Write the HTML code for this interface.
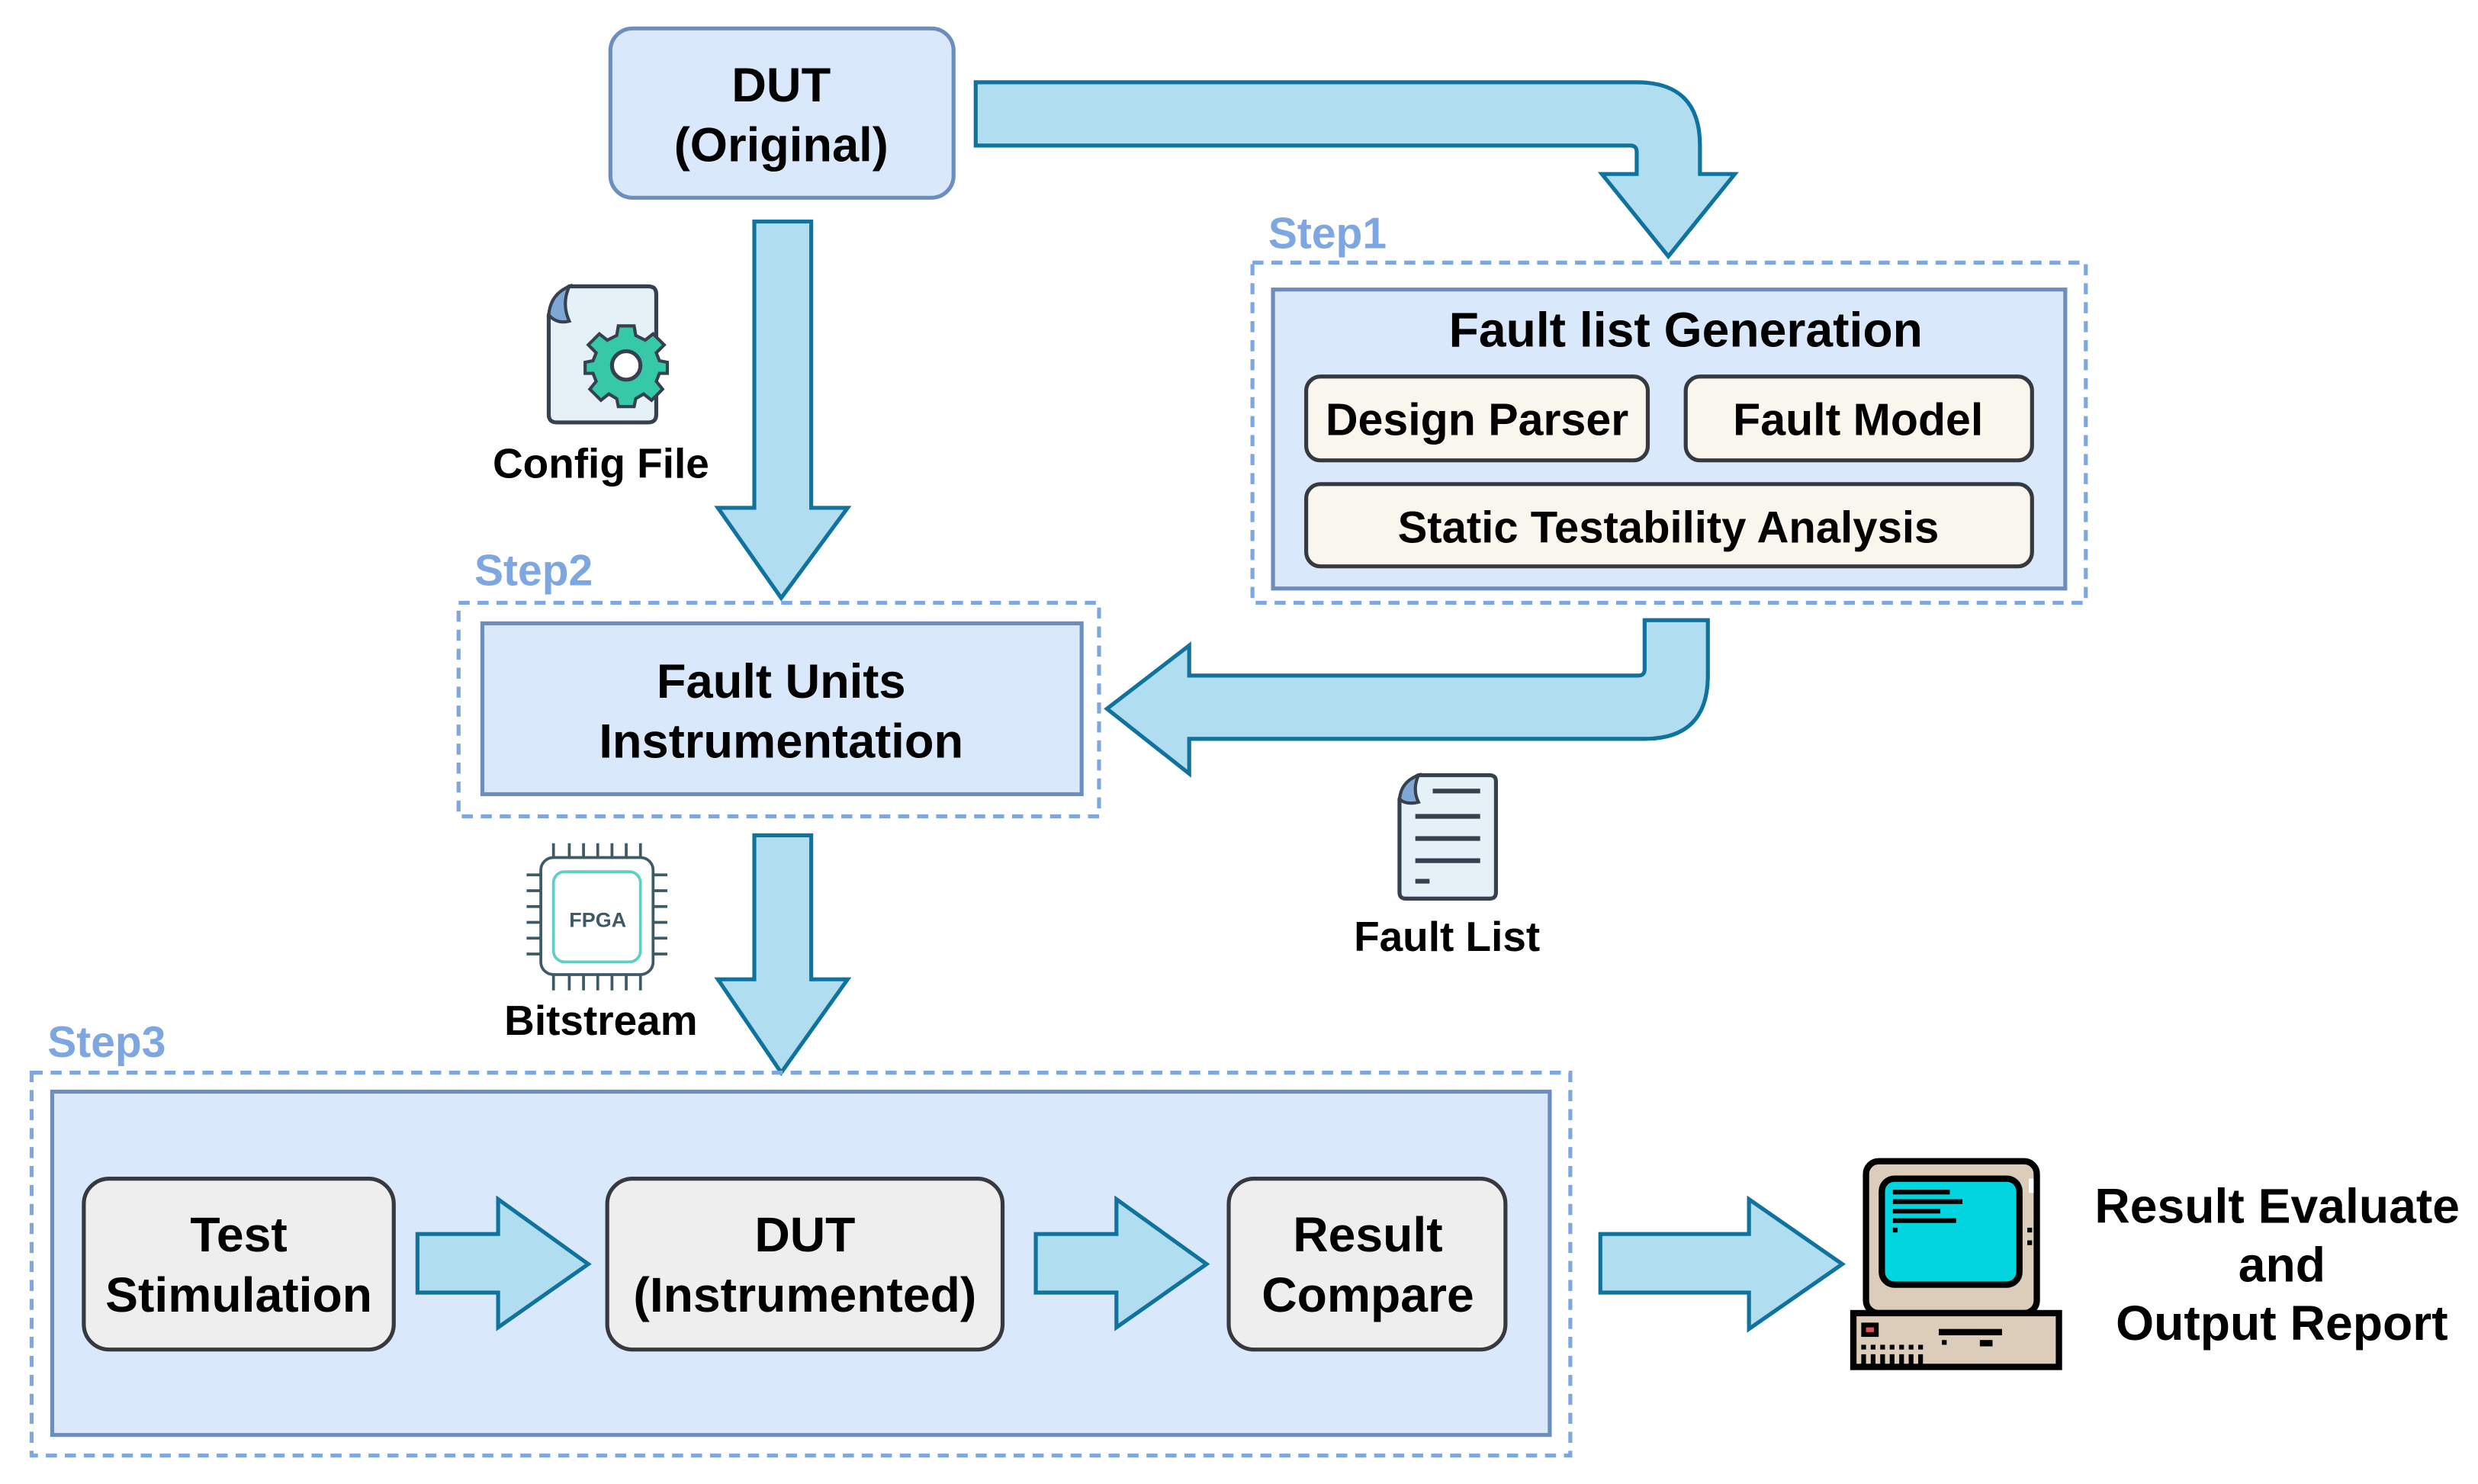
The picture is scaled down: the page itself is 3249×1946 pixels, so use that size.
<!DOCTYPE html>
<html><head><meta charset="utf-8"><style>
html,body{margin:0;padding:0;background:#fff;}
svg{display:block;}
text{font-family:"Liberation Sans",Arial,sans-serif;font-weight:bold;}
</style></head><body>
<svg width="3249" height="1946" viewBox="0 0 1567 938" preserveAspectRatio="none" xmlns="http://www.w3.org/2000/svg">
<rect width="1567" height="938" fill="#fff"/>
<!-- DUT original -->
<rect x="386" y="18" width="217" height="107" rx="14" fill="#dae8fc" stroke="#6c8ebf" stroke-width="2.5"/>
<text x="494" y="64" font-size="30.5" text-anchor="middle">DUT</text>
<text x="494" y="102" font-size="30.5" text-anchor="middle">(Original)</text>

<!-- top arrow -->
<path d="M617,52 L1035,52 Q1075,52 1075,92 L1075,110 L1097,110 L1055,162 L1013,110 L1035,110 L1035,96 Q1035,92 1031,92 L617,92 Z" fill="#b1ddf0" stroke="#10739e" stroke-width="2.5"/>

<!-- Step1 -->
<text x="802" y="157" font-size="27.5" fill="#7ea6e0">Step1</text>
<rect x="792" y="166" width="527" height="215" fill="none" stroke="#7ea6e0" stroke-width="2.5" stroke-dasharray="7,5"/>
<rect x="805" y="183" width="501" height="189" fill="#dae8fc" stroke="#6c8ebf" stroke-width="2.5"/>
<text x="1066" y="219" font-size="31" text-anchor="middle">Fault list Generation</text>
<rect x="826" y="238" width="216" height="53" rx="9" fill="#f9f7ed" stroke="#36393d" stroke-width="2.5"/>
<text x="934" y="275" font-size="28.5" text-anchor="middle">Design Parser</text>
<rect x="1066" y="238" width="219" height="53" rx="9" fill="#f9f7ed" stroke="#36393d" stroke-width="2.5"/>
<text x="1175" y="275" font-size="28.5" text-anchor="middle">Fault Model</text>
<rect x="826" y="306" width="459" height="52" rx="9" fill="#f9f7ed" stroke="#36393d" stroke-width="2.5"/>
<text x="1055" y="343" font-size="28" text-anchor="middle">Static Testability Analysis</text>

<!-- down arrow 1 -->
<path d="M477,140 L513,140 L513,321 L536,321 L494,378 L454,321 L477,321 Z" fill="#b1ddf0" stroke="#10739e" stroke-width="2.5"/>

<!-- config file icon -->
<path d="M360,181 L410,181 Q415,181 415,186 L415,262 Q415,267 410,267 L352,267 Q347,267 347,262 L347,199 Q352,186 360,181 Z" fill="#e6f0f7" stroke="#36404f" stroke-width="2.5"/>
<path d="M347,199 Q348,186 360,181 Q355,192 360,203 Q352,205 347,199 Z" fill="#7fa7d5" stroke="#36404f" stroke-width="2"/>
<g transform="translate(396,231)">
<g fill="#35c9a7" stroke="#36404f" stroke-width="2">
<path d="M-5,-25 L5,-25 L6,-19 L12,-16 L17,-20 L24,-13 L19,-8 L21,-3 L26,-2 L26,5 L21,5 L19,10 L23,15 L16,22 L11,18 L6,21 L5,26 L-5,26 L-6,21 L-11,18 L-16,22 L-23,15 L-19,10 L-21,5 L-26,5 L-26,-2 L-21,-3 L-19,-8 L-24,-13 L-17,-20 L-12,-16 L-6,-19 Z"/>
</g>
<circle r="9" fill="#fff" stroke="#36404f" stroke-width="2.5"/>
</g>
<text x="380" y="302" font-size="26.5" text-anchor="middle">Config File</text>

<!-- Step2 -->
<text x="300" y="370" font-size="27.5" fill="#7ea6e0">Step2</text>
<rect x="290" y="381" width="405" height="135" fill="none" stroke="#7ea6e0" stroke-width="2.5" stroke-dasharray="7,5"/>
<rect x="305" y="394" width="379" height="108" fill="#dae8fc" stroke="#6c8ebf" stroke-width="2.5"/>
<text x="494" y="441" font-size="30.5" text-anchor="middle">Fault Units</text>
<text x="494" y="479" font-size="30.5" text-anchor="middle">Instrumentation</text>

<!-- left arrow -->
<path d="M1040,392 L1080,392 L1080,427 Q1080,467 1040,467 L752,467 L752,489 L700,448 L752,408 L752,427 L1036,427 Q1040,427 1040,423 Z" fill="#b1ddf0" stroke="#10739e" stroke-width="2.5"/>

<!-- fault list icon -->
<path d="M897,490 L942,490 Q946,490 946,494 L946,564 Q946,568 942,568 L889,568 Q885,568 885,564 L885,505 Q889,494 897,490 Z" fill="#e6f0f7" stroke="#36404f" stroke-width="2.5"/>
<path d="M885,505 Q886,494 897,490 Q893,499 897,507 Q889,509 885,505 Z" fill="#7fa7d5" stroke="#36404f" stroke-width="2"/>
<g stroke="#36404f" stroke-width="3">
<line x1="895" y1="516" x2="936" y2="516"/>
<line x1="895" y1="530" x2="936" y2="530"/>
<line x1="895" y1="544" x2="936" y2="544"/>
<line x1="895" y1="557" x2="904" y2="557"/>
<line x1="906" y1="500" x2="936" y2="500"/>
</g>
<text x="915" y="601" font-size="26.5" text-anchor="middle">Fault List</text>

<!-- down arrow 2 -->
<path d="M477,528 L513,528 L513,619 L536,619 L494,678 L454,619 L477,619 Z" fill="#b1ddf0" stroke="#10739e" stroke-width="2.5"/>

<!-- FPGA chip -->
<g stroke="#3e5a66" stroke-width="1.8">
<line x1="350" y1="533" x2="350" y2="542"/><line x1="360" y1="533" x2="360" y2="542"/><line x1="369" y1="533" x2="369" y2="542"/><line x1="378" y1="533" x2="378" y2="542"/><line x1="387" y1="533" x2="387" y2="542"/><line x1="396" y1="533" x2="396" y2="542"/><line x1="405" y1="533" x2="405" y2="542"/>
<line x1="350" y1="616" x2="350" y2="626"/><line x1="360" y1="616" x2="360" y2="626"/><line x1="369" y1="616" x2="369" y2="626"/><line x1="378" y1="616" x2="378" y2="626"/><line x1="387" y1="616" x2="387" y2="626"/><line x1="396" y1="616" x2="396" y2="626"/><line x1="405" y1="616" x2="405" y2="626"/>
<line x1="333" y1="553" x2="342" y2="553"/><line x1="333" y1="563" x2="342" y2="563"/><line x1="333" y1="573" x2="342" y2="573"/><line x1="333" y1="583" x2="342" y2="583"/><line x1="333" y1="593" x2="342" y2="593"/><line x1="333" y1="603" x2="342" y2="603"/>
<line x1="413" y1="553" x2="422" y2="553"/><line x1="413" y1="563" x2="422" y2="563"/><line x1="413" y1="573" x2="422" y2="573"/><line x1="413" y1="583" x2="422" y2="583"/><line x1="413" y1="593" x2="422" y2="593"/><line x1="413" y1="603" x2="422" y2="603"/>
</g>
<rect x="342" y="542" width="71" height="74" rx="8" fill="#fff" stroke="#3e5a66" stroke-width="1.8"/>
<rect x="350" y="551" width="55" height="57" rx="7" fill="#fff" stroke="#5fcfc6" stroke-width="1.8"/>
<text x="378" y="586" font-size="13" fill="#3e5a66" text-anchor="middle">FPGA</text>
<text x="380" y="654" font-size="26.5" text-anchor="middle">Bitstream</text>

<!-- Step3 -->
<text x="30" y="668" font-size="27.5" fill="#7ea6e0">Step3</text>
<rect x="20" y="678" width="973" height="242" fill="none" stroke="#7ea6e0" stroke-width="2.5" stroke-dasharray="7,5"/>
<rect x="33" y="690" width="947" height="217" fill="#dae8fc" stroke="#6c8ebf" stroke-width="2.5"/>

<rect x="53" y="745" width="196" height="108" rx="16" fill="#eeeeee" stroke="#36393d" stroke-width="2.5"/>
<text x="151" y="791" font-size="31" text-anchor="middle">Test</text>
<text x="151" y="829" font-size="31" text-anchor="middle">Stimulation</text>
<rect x="384" y="745" width="250" height="108" rx="16" fill="#eeeeee" stroke="#36393d" stroke-width="2.5"/>
<text x="509" y="791" font-size="31" text-anchor="middle">DUT</text>
<text x="509" y="829" font-size="31" text-anchor="middle">(Instrumented)</text>
<rect x="777" y="745" width="175" height="108" rx="16" fill="#eeeeee" stroke="#36393d" stroke-width="2.5"/>
<text x="865" y="791" font-size="31" text-anchor="middle">Result</text>
<text x="865" y="829" font-size="31" text-anchor="middle">Compare</text>

<path d="M264,780 L315,780 L315,758 L372,799 L315,839 L315,817 L264,817 Z" fill="#b1ddf0" stroke="#10739e" stroke-width="2.5"/>
<path d="M655,780 L706,780 L706,758 L763,799 L706,839 L706,817 L655,817 Z" fill="#b1ddf0" stroke="#10739e" stroke-width="2.5"/>
<path d="M1012,780 L1106,780 L1106,758 L1165,799 L1106,840 L1106,817 L1012,817 Z" fill="#b1ddf0" stroke="#10739e" stroke-width="2.5"/>

<!-- computer -->
<rect x="1180" y="734" width="108" height="96" rx="8" fill="#dccdbb" stroke="#000" stroke-width="4"/>
<rect x="1190" y="745" width="87" height="67" rx="8" fill="#00d5e0" stroke="#000" stroke-width="4"/>
<g fill="#000">
<rect x="1197" y="752" width="36" height="3"/>
<rect x="1197" y="758" width="44" height="3"/>
<rect x="1197" y="764" width="30" height="3"/>
<rect x="1197" y="770" width="40" height="3"/>
<rect x="1197" y="776" width="3" height="3"/>
<rect x="1282" y="776" width="3" height="3"/>
<rect x="1282" y="784" width="3" height="3"/>
</g>
<rect x="1283" y="745" width="3" height="9" fill="#fff"/>
<rect x="1172" y="830" width="130" height="34" fill="#dccdbb" stroke="#000" stroke-width="4"/>
<rect x="1177" y="836" width="11" height="9" fill="#000"/>
<rect x="1180" y="839" width="5" height="3" fill="#e05060"/>
<rect x="1226" y="840" width="40" height="4" fill="#000"/>
<g fill="#000">
<rect x="1228" y="847" width="3" height="3"/><rect x="1252" y="847" width="8" height="4"/>
<rect x="1177" y="850" width="3" height="3"/><rect x="1183" y="850" width="3" height="3"/><rect x="1189" y="850" width="3" height="3"/><rect x="1195" y="850" width="3" height="3"/><rect x="1201" y="850" width="3" height="3"/><rect x="1207" y="850" width="3" height="3"/><rect x="1213" y="850" width="3" height="3"/>
<rect x="1177" y="856" width="3" height="7"/><rect x="1183" y="856" width="3" height="7"/><rect x="1189" y="856" width="3" height="7"/><rect x="1195" y="856" width="3" height="7"/><rect x="1201" y="856" width="3" height="7"/><rect x="1207" y="856" width="3" height="7"/><rect x="1213" y="856" width="3" height="7"/>
</g>

<text x="1440" y="773" font-size="31" text-anchor="middle">Result Evaluate</text>
<text x="1443" y="810" font-size="31" text-anchor="middle">and</text>
<text x="1443" y="847" font-size="31" text-anchor="middle">Output Report</text>
</svg>
</body></html>
